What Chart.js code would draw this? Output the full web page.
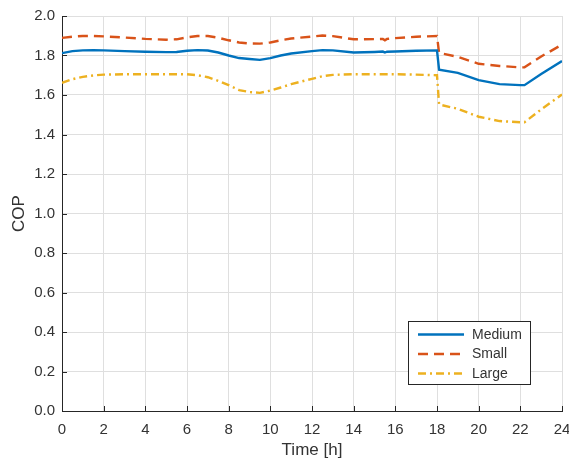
<!DOCTYPE html>
<html>
<head>
<meta charset="utf-8">
<script src="https://cdn.jsdelivr.net/npm/chart.js@4/dist/chart.umd.min.js"></script>
<style>
html,body{margin:0;padding:0;background:#fff;}
#wrap{width:569px;height:461px;}
</style>
</head>
<body>
<div id="wrap"><canvas id="c" width="569" height="461"></canvas></div>
<script>
const hours = [0,0.5,1,1.5,2,3,4,5,5.5,6,6.5,7,7.5,8,8.5,9,9.5,10,10.5,11,12,12.5,13,14,15,15.4,15.5,15.6,16,17,18,18.1,19,20,21,22,22.2,23,24];
const medium = [1.812,1.822,1.826,1.827,1.826,1.822,1.819,1.817,1.818,1.824,1.827,1.825,1.815,1.800,1.787,1.782,1.778,1.787,1.800,1.810,1.822,1.827,1.826,1.815,1.818,1.820,1.815,1.819,1.820,1.824,1.826,1.728,1.712,1.675,1.655,1.650,1.650,1.706,1.772];
const small = [1.889,1.895,1.899,1.899,1.897,1.891,1.884,1.880,1.882,1.892,1.899,1.899,1.890,1.877,1.866,1.861,1.860,1.866,1.877,1.886,1.896,1.901,1.898,1.882,1.883,1.884,1.877,1.884,1.888,1.895,1.899,1.813,1.793,1.758,1.747,1.740,1.740,1.795,1.855];
const large = [1.662,1.680,1.692,1.699,1.703,1.705,1.705,1.705,1.705,1.705,1.700,1.690,1.672,1.650,1.625,1.615,1.611,1.622,1.638,1.655,1.682,1.695,1.702,1.705,1.705,1.705,1.705,1.705,1.705,1.703,1.700,1.552,1.530,1.490,1.468,1.462,1.462,1.527,1.603];
const seriesNames = ['Medium','Small','Large'];
const xTicks = [0,2,4,6,8,10,12,14,16,18,20,22,24];
const yTicks = [0,0.2,0.4,0.6,0.8,1.0,1.2,1.4,1.6,1.8,2.0];

const FONT = '"Liberation Sans", Arial, Helvetica, sans-serif';
const AXIS = '#262626';
const TXT = '#333333';
const GRID = '#dfdfdf';

function pts(ys){ return hours.map((h,i)=>({x:h,y:ys[i]})); }

const innerTicks = {
  id:'innerTicks',
  afterDatasetsDraw(chart){
    const ctx = chart.ctx, xs = chart.scales.x, ys = chart.scales.y, ca = chart.chartArea;
    ctx.save();
    ctx.strokeStyle = AXIS; ctx.lineWidth = 1;
    ctx.beginPath();
    xTicks.forEach(v=>{ const p = Math.round(xs.getPixelForValue(v))+0.5; ctx.moveTo(p, ca.bottom); ctx.lineTo(p, ca.bottom-5); });
    yTicks.forEach(v=>{ const p = Math.round(ys.getPixelForValue(v))+0.5; ctx.moveTo(ca.left, p); ctx.lineTo(ca.left+5, p); });
    ctx.stroke();
    ctx.restore();
  }
};

const boxLegend = {
  id:'boxLegend',
  afterDraw(chart){
    const ctx = chart.ctx;
    const bx = 408.5, by = 321.5, bw = 122, bh = 63;
    ctx.save();
    ctx.fillStyle = '#fff';
    ctx.fillRect(bx,by,bw,bh);
    ctx.strokeStyle = AXIS; ctx.lineWidth = 1;
    ctx.strokeRect(bx,by,bw,bh);
    const rows = [334.5, 354, 373.5];
    chart.data.datasets.forEach((ds,i)=>{
      const y = rows[i];
      ctx.strokeStyle = ds.borderColor;
      ctx.lineWidth = ds.borderWidth;
      ctx.setLineDash(ds.borderDash || []);
      ctx.beginPath(); ctx.moveTo(418,y); ctx.lineTo(464,y); ctx.stroke();
      ctx.setLineDash([]);
      ctx.fillStyle = TXT;
      ctx.font = '14px ' + FONT;
      ctx.textBaseline = 'middle';
      ctx.textAlign = 'left';
      ctx.fillText(ds.label, 472, y+0.5);
    });
    ctx.restore();
  }
};

new Chart(document.getElementById('c'), {
  type:'line',
  data:{
    datasets:[
      {label:seriesNames[0], data:pts(medium), borderColor:'#0072BD', borderWidth:2.4, pointRadius:0, fill:false, tension:0},
      {label:seriesNames[1], data:pts(small), borderColor:'#D95319', borderWidth:2.4, borderDash:[10,6], pointRadius:0, fill:false, tension:0},
      {label:seriesNames[2], data:pts(large), borderColor:'#EDB120', borderWidth:2.4, borderDash:[8,4,2,4], pointRadius:0, fill:false, tension:0}
    ]
  },
  options:{
    responsive:false,
    animation:false,
    devicePixelRatio:1,
    layout:{padding:{left:0,right:7,top:16,bottom:0}},
    plugins:{legend:{display:false}, tooltip:{enabled:false}},
    scales:{
      x:{
        type:'linear', min:0, max:24,
        afterBuildTicks(s){ s.ticks = xTicks.map(v=>({value:v})); },
        afterFit(s){ s.height = 50; s.paddingLeft = 0; s.paddingRight = 0; },
        grid:{color:GRID, drawTicks:false, lineWidth:1},
        border:{color:AXIS, width:1},
        ticks:{color:TXT, font:{family:FONT, size:15}, padding:10, maxRotation:0, callback:v=>String(v)},
        title:{display:true, text:'Time [h]', color:TXT, font:{family:FONT, size:17}, padding:{top:0,bottom:0}}
      },
      y:{
        type:'linear', min:0, max:2,
        afterBuildTicks(s){ s.ticks = yTicks.map(v=>({value:v})); },
        afterFit(s){ s.width = 62; s.paddingTop = 0; s.paddingBottom = 0; },
        grid:{color:GRID, drawTicks:false, lineWidth:1},
        border:{color:AXIS, width:1},
        ticks:{color:TXT, font:{family:FONT, size:15}, padding:7, callback:v=>Number(v).toFixed(1)},
        title:{display:true, text:'COP', color:TXT, font:{family:FONT, size:17}, padding:{top:9,bottom:0}}
      }
    }
  },
  plugins:[innerTicks, boxLegend]
});
</script>
</body>
</html>
